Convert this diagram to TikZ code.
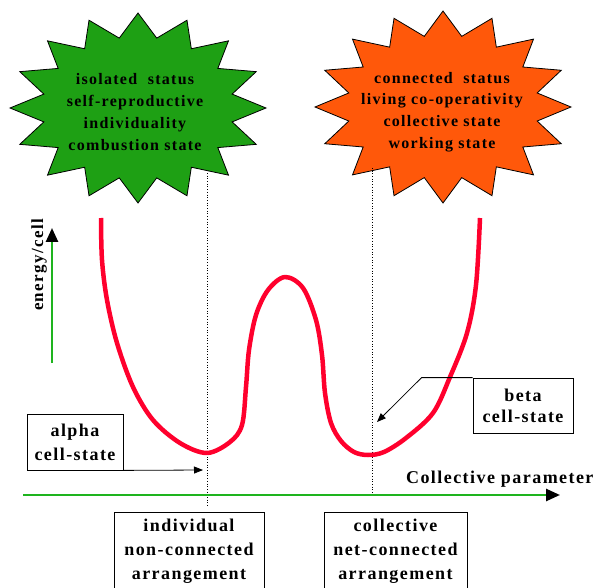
\documentclass[tikz,border=0pt]{standalone}
\usepackage{fontspec}
\setmainfont[LetterSpace=8]{Liberation Serif}
\usetikzlibrary{arrows.meta}

\definecolor{stargreen}{RGB}{30,160,20}
\definecolor{starorange}{RGB}{255,88,10}
\definecolor{axisgreen}{RGB}{30,180,30}
\definecolor{curvered}{RGB}{255,0,45}

% звезда: центр x, центр y, rx, ry, цвет
\newcommand{\burst}[5]{%
	\draw[fill=#5, line width=0.8pt] plot[samples=33, domain=0:32, variable=\k]
		({#1 + #3*(mod(\k,2)==0 ? 1 : 0.75)*cos(90+\k*11.25)},
		 {#2 + #4*(mod(\k,2)==0 ? 1 : 0.75)*sin(90+\k*11.25)}) -- cycle;}

\begin{document}
\begin{tikzpicture}[x=1pt, y=-1pt,
		lbl/.style={font=\bfseries\fontsize{18}{24}\selectfont, align=center},
		startext/.style={font=\bfseries\fontsize{16}{21.7}\selectfont, align=center},
		box/.style={lbl, draw, line width=0.8pt, inner sep=0pt},
		ax/.style={draw=axisgreen, line width=2.5pt, -{Triangle[color=black,length=14pt,width=12pt]}},
		pointer/.style={line width=0.8pt, -{Triangle[length=9pt,width=7pt]}}]

	\useasboundingbox (0,0) rectangle (597,588);
	\clip (0,0) rectangle (597,588);

	% Звёзды
	\burst{138}{108}{128}{95}{stargreen}
	\burst{443}{107}{128}{96}{starorange}
	\node[startext] (iso) at (135,112) {isolated~~status\\self-reproductive\\individuality\\combustion state};
	\node[startext] (con) at (442,112) {connected~~status\\living co-operativity\\collective state\\working state};

	% Пунктиры
	\coordinate (a1) at (207,173);
	\coordinate (a2) at (207,507);
	\coordinate (b1) at (372,168);
	\coordinate (b2) at (372,497);
	\draw[dotted, line width=0.7pt] (a1) -- (a2);
	\draw[dotted, line width=0.7pt] (b1) -- (b2);

	% Оси
	\coordinate (yfrom) at (52,363);
	\coordinate (yto) at (52,228);
	\coordinate (xfrom) at (23,495);
	\coordinate (xto) at (560,495);
	\draw[ax] (yfrom) -- (yto);
	\draw[ax] (xfrom) -- (xto);
	\node[lbl, font=\bfseries\fontsize{17}{20}\selectfont, rotate=90] (ylab) at (39,265) {energy/cell};
	\node[lbl, anchor=base east] (xlab) at (597,483) {Collective parameter};

	% Кривая
	\draw[curvered, line width=4.5pt, line join=round] plot[smooth, tension=0.55] coordinates {
		(101,218) (102,260) (107,300) (117,343) (133,387) (153,420) (180,443)
		(207,453) (230,442) (242,425) (246,387) (249,350) (256,315) (268,290)
		(285,277) (303,288) (316,320) (322,355) (325,393) (331,423) (341,441)
		(354,452) (368,455) (384,452) (406,438) (433,413) (450,377) (467,333)
		(476,285) (480,218)};

	% Подписи
	\node[box, minimum width=96pt, minimum height=56pt] (alpha) at (75,442) {alpha\\cell-state};
	\node[box, minimum width=100pt, minimum height=55pt, font=\bfseries\fontsize{18}{21}\selectfont] (beta) at (523,405.5) {beta\\cell-state};
	\coordinate (atip) at (203,470);
	\coordinate (btip) at (377,422);
	\draw[pointer] (alpha.south east) -- (atip);
	\draw[pointer] (beta.north west) -- ++(-51,0) -- (btip);

	\node[lbl, draw, line width=0.8pt, anchor=north, minimum width=150pt, inner ysep=7pt] (ind) at (189,512) {individual\\non-connected\\arrangement};
	\node[lbl, draw, line width=0.8pt, anchor=north, minimum width=143pt, inner ysep=7pt] (col) at (395.5,512) {collective\\net-connected\\arrangement};
\end{tikzpicture}
\end{document}
